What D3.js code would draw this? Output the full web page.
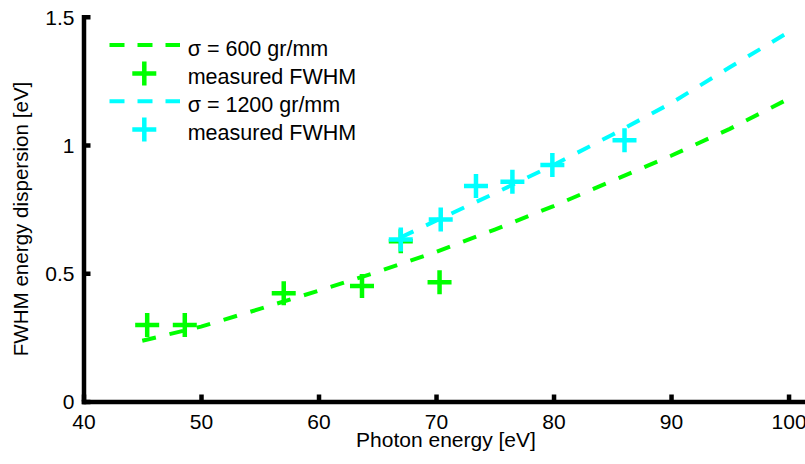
<!DOCTYPE html>
<html>
<head>
<meta charset="utf-8">
<script src="https://cdn.jsdelivr.net/npm/d3@7"></script>
<style>
  html, body { margin: 0; padding: 0; background: #fff; }
  svg { display: block; }
  text { font-family: "Liberation Sans", Arial, Helvetica, sans-serif; fill: #000; }
</style>
</head>
<body>
<svg id="chart" width="805" height="464"></svg>
<script>
// ---- data ----
const xTicks = [40, 50, 60, 70, 80, 90, 100];
const yTicks = [0, 0.5, 1, 1.5];
const yTickLabels = ["0", "0.5", "1", "1.5"];

const fit600X = [45, 50, 55, 60, 65, 70, 75, 80, 85, 90, 95, 100];
const fit600Y = [0.237, 0.292, 0.361, 0.432, 0.505, 0.583, 0.670, 0.762, 0.860, 0.958, 1.063, 1.180];

const fit1200X = [67, 70, 75, 80, 85, 90, 95, 100];
const fit1200Y = [0.640, 0.705, 0.812, 0.922, 1.040, 1.163, 1.303, 1.440];

const meas600X = [45.42, 48.62, 57.04, 63.7, 67.0, 70.3];
const meas600Y = [0.298, 0.298, 0.422, 0.450, 0.625, 0.465];

const meas1200X = [67.0, 70.4, 73.4, 76.5, 79.9, 86.04];
const meas1200Y = [0.632, 0.710, 0.840, 0.857, 0.922, 1.019];

const legendLabels = ["σ = 600 gr/mm", "measured FWHM", "σ = 1200 gr/mm", "measured FWHM"];
const green = "#00ff00";
const cyan = "#00ffff";

// ---- chart ----
const svg = d3.select("#chart");
const x = d3.scaleLinear().domain([40, 101.4]).range([83.5, 805]);
const y = d3.scaleLinear().domain([0, 1.5]).range([401.5, 16.75]);

const line = d3.line().x(d => x(d[0])).y(d => y(d[1])).curve(d3.curveLinear);
const plus = "M-12,0H12M0,-12V12";

function drawFit(xs, ys, color) {
  svg.append("path")
    .datum(xs.map((v, i) => [v, ys[i]]))
    .attr("d", line)
    .attr("fill", "none")
    .attr("stroke", color)
    .attr("stroke-width", 4)
    .attr("stroke-dasharray", "14,14");
}
function drawMeas(xs, ys, color) {
  svg.append("g").selectAll("path")
    .data(xs.map((v, i) => [v, ys[i]]))
    .join("path")
    .attr("transform", d => `translate(${x(d[0])},${y(d[1])})`)
    .attr("d", plus)
    .attr("fill", "none")
    .attr("stroke", color)
    .attr("stroke-width", 4.5);
}

drawFit(fit600X, fit600Y, green);
drawMeas(meas600X, meas600Y, green);
drawFit(fit1200X, fit1200Y, cyan);
drawMeas(meas1200X, meas1200Y, cyan);

// axes
const xAxis = d3.axisBottom(x).tickValues(xTicks).tickSizeInner(-7).tickSizeOuter(0).tickFormat(d3.format("d"));
const gx = svg.append("g").attr("transform", `translate(0,${y(0)})`).call(xAxis);
const yAxis = d3.axisLeft(y).tickValues(yTicks).tickSizeInner(-7).tickSizeOuter(0)
  .tickFormat((d, i) => yTickLabels[i]);
const gy = svg.append("g").attr("transform", `translate(${x(40)},0)`).call(yAxis);

[gx, gy].forEach(g => {
  g.select(".domain").attr("stroke", "#000").attr("stroke-width", 4.5).attr("stroke-linecap", "square");
  g.selectAll(".tick line").attr("stroke", "#000").attr("stroke-width", 4.5);
  g.selectAll(".tick text").attr("font-size", 21).attr("fill", "#000")
    .style("font-family", '"Liberation Sans", Arial, sans-serif');
});
gx.selectAll(".tick text").attr("y", 27.5).attr("dy", 0);
gy.selectAll(".tick text").attr("x", -9).attr("dy", "0.35em");

// axis labels
svg.append("text")
  .attr("x", 446).attr("y", 446.5)
  .attr("text-anchor", "middle").attr("font-size", 21)
  .text("Photon energy [eV]");
svg.append("text")
  .attr("transform", "translate(28,219) rotate(-90)")
  .attr("text-anchor", "middle").attr("font-size", 20.6)
  .text("FWHM energy dispersion [eV]");

// legend
const leg = svg.append("g");
const rowBase = [56, 84, 112.3, 140];
const legColors = [green, green, cyan, cyan];
legendLabels.forEach((lab, i) => {
  const c = legColors[i];
  if (i % 2 === 0) {
    leg.append("line")
      .attr("x1", 109.5).attr("x2", 180).attr("y1", rowBase[i] - 11).attr("y2", rowBase[i] - 11)
      .attr("stroke", c).attr("stroke-width", 4).attr("stroke-dasharray", "15,13");
  } else {
    leg.append("path")
      .attr("transform", `translate(144.3,${rowBase[i] - 10.5})`)
      .attr("d", plus).attr("fill", "none").attr("stroke", c).attr("stroke-width", 4.5);
  }
  leg.append("text")
    .attr("x", 187.7).attr("y", rowBase[i])
    .attr("font-size", 21.5)
    .text(lab);
});
</script>
</body>
</html>
